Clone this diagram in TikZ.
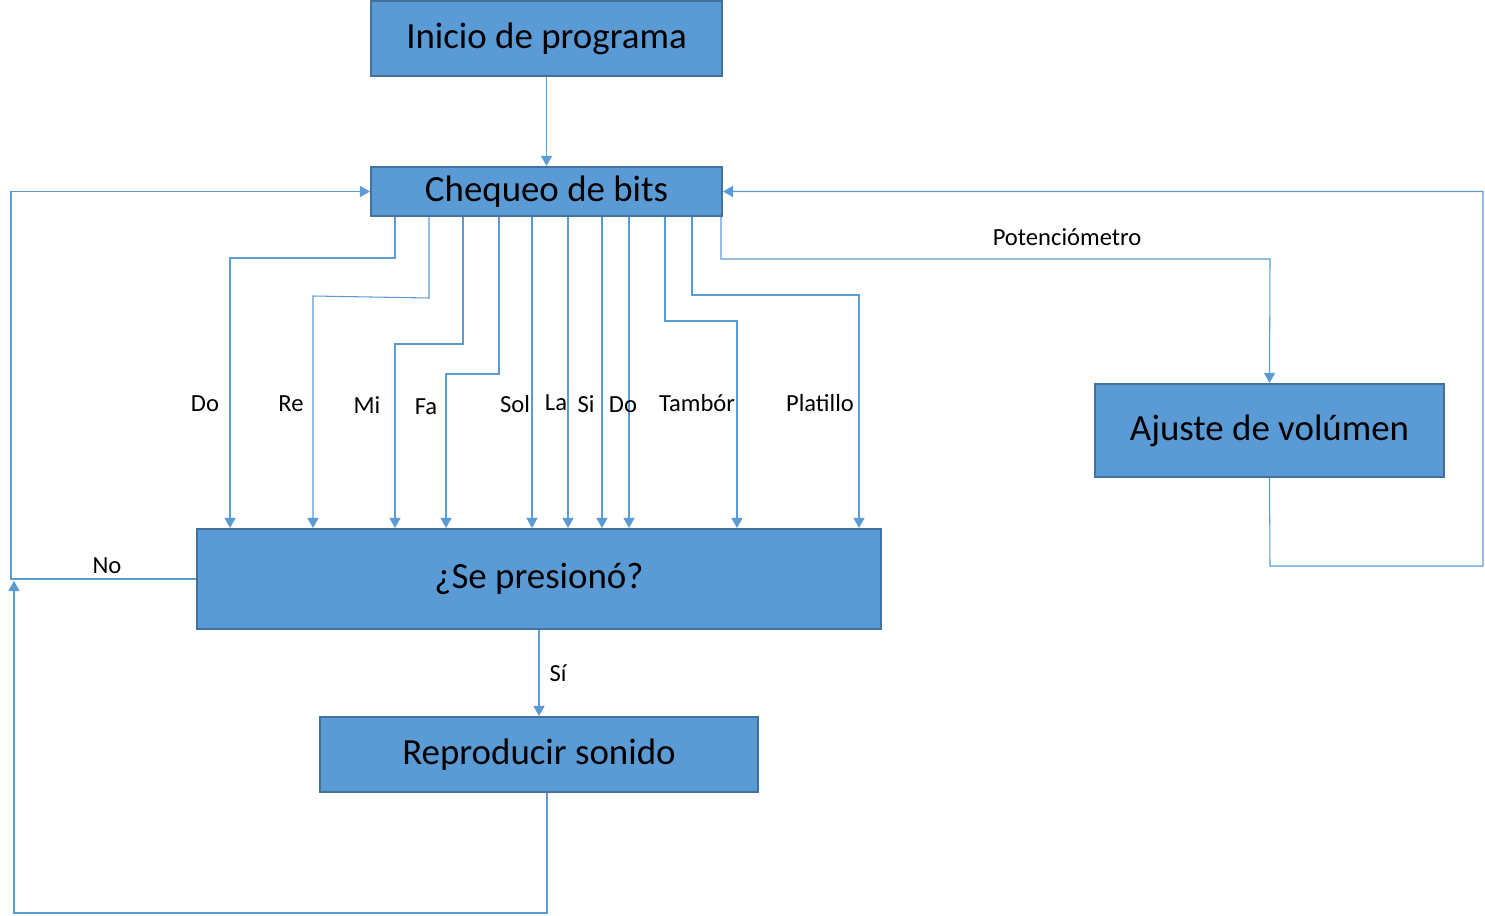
\documentclass[tikz,border=0pt]{standalone}
\usepackage{fontspec}
\setmainfont{Carlito}
\usetikzlibrary{arrows.meta}
\definecolor{azulcaja}{HTML}{5B9BD5}
\definecolor{azulborde}{HTML}{41719C}
\begin{document}
\begin{tikzpicture}[x=0.02cm,y=-0.02cm,
		caja/.style={draw=azulborde,line width=1.2pt,fill=azulcaja,inner sep=0pt,font=\fontsize{21}{25}\selectfont},
		linea/.style={draw=azulcaja,line width=0.6pt},
		flecha/.style={linea,-{Triangle[length=0.2cm,width=0.22cm]}},
		etiqueta/.style={font=\fontsize{14}{17}\selectfont,inner sep=0pt}]
		\useasboundingbox (0,0) rectangle (1485,916);
		
		% Cajas
		\node[caja,minimum width=7.02cm,minimum height=1.5cm] (inicio) at (546.5,38.5) {Inicio de programa};
		\node[caja,minimum width=7.02cm,minimum height=0.98cm] (chequeo) at (546.5,191.5) {Chequeo de bits};
		\node[caja,minimum width=6.98cm,minimum height=1.86cm] (ajuste) at (1269.5,430.5) {Ajuste de volúmen};
		\node[caja,minimum width=13.68cm,minimum height=2cm] (presiono) at (539,579) {¿Se presionó?};
		\node[caja,minimum width=8.76cm,minimum height=1.5cm] (reproducir) at (539,754.5) {Reproducir sonido};
		
		% Inicio
		\draw[flecha] (inicio) -- (chequeo);
		
		% Notas
		\draw[flecha] (chequeo.south -| 395,0) -- (395,258) -- (230,258) -- (presiono.north -| 230,0);
		\draw[flecha] (chequeo.south -| 429,0) -- (429,298) -- (313,296) -- (presiono.north -| 313,0);
		\draw[flecha] (chequeo.south -| 463,0) |- (395,344) -- (presiono.north -| 395,0);
		\draw[flecha] (chequeo.south -| 499,0) |- (446,374) -- (presiono.north -| 446,0);
		\foreach \x in {532,568,602,629}
		\draw[flecha] (chequeo.south -| \x,0) -- (presiono.north -| \x,0);
		\draw[flecha] (chequeo.south -| 665,0) |- (737,321) -- (presiono.north -| 737,0);
		\draw[flecha] (chequeo.south -| 692,0) |- (859,295) -- (presiono.north -| 859,0);
		
		\node[etiqueta] (do1) at (205,404) {Do};
		\node[etiqueta] (re) at (291,404) {Re};
		\node[etiqueta] (mi) at (367,405) {Mi};
		\node[etiqueta] (fa) at (426,407) {Fa};
		\node[etiqueta] (sol) at (515,404) {Sol};
		\node[etiqueta] (la) at (556,403) {La};
		\node[etiqueta] (si) at (586,404) {Si};
		\node[etiqueta] (do2) at (623,405) {Do};
		\node[etiqueta] (tambor) at (697,403) {Tambór};
		\node[etiqueta] (platillo) at (820,403) {Platillo};
		
		% Volumen
		\draw[flecha] (chequeo.south -| 721,0) |- (1270,259) -- (ajuste.north);
		\node[etiqueta] (pot) at (1067,237) {Potenciómetro};
		\draw[flecha] (ajuste.south) -- (1270,566) -- (1483,566) |- (chequeo.east);
		
		% Respuestas
		\draw[flecha] (presiono.west) -- (11,579) |- (chequeo.west);
		\node[etiqueta] (no) at (107,566) {No};
		\draw[flecha] (presiono) -- (reproducir);
		\node[etiqueta] (si2) at (558,673) {Sí};
		\draw[flecha] (reproducir.south -| 547,0) -- (547,913) -- (14,913) -- (14,581);
	\end{tikzpicture}
\end{document}
